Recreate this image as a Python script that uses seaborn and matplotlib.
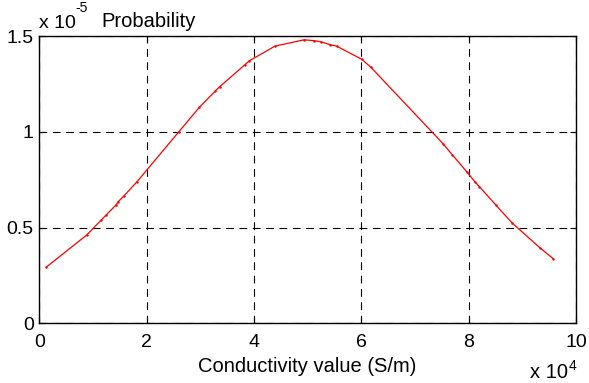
import matplotlib
matplotlib.use("Agg")
import matplotlib.pyplot as plt
import seaborn as sns
import pandas as pd

# values (x in units of 1e4 S/m, y in units of 1e-5)
conductivity = [0.125, 0.88, 1.15, 1.24, 1.43, 1.47, 1.57, 1.82, 2.60, 2.98,
                3.28, 3.36, 3.83, 3.91, 4.39, 4.93, 5.11, 5.24, 5.42, 5.54,
                6.01, 6.18, 7.52, 7.69, 7.97, 8.12, 8.20, 8.51, 8.80, 9.33, 9.58]
probability = [0.292, 0.46, 0.538, 0.564, 0.618, 0.635, 0.663, 0.739, 1.00, 1.127,
               1.213, 1.235, 1.35, 1.37, 1.447, 1.48, 1.476, 1.47, 1.455, 1.447,
               1.378, 1.336, 0.938, 0.881, 0.789, 0.737, 0.713, 0.616, 0.526, 0.393, 0.336]
x_ticks = [0, 2, 4, 6, 8, 10]
y_ticks = [0, 0.5, 1, 1.5]
y_tick_labels = ["0", "0.5", "1", "1.5"]

df = pd.DataFrame({"cond": conductivity, "prob": probability})

sns.set_style("ticks")
plt.rcParams["font.family"] = ["Liberation Sans", "DejaVu Sans"]
plt.rcParams["text.color"] = "black"
plt.rcParams["axes.labelcolor"] = "black"

fig = plt.figure(figsize=(5.89, 3.83), dpi=100)
ax = fig.add_axes([0.0667, 0.156, 0.9113, 0.75])

sns.lineplot(data=df, x="cond", y="prob", color="red", linewidth=0.9,
             marker=".", markersize=3.5, markeredgewidth=0, ax=ax)

ax.set_xlim(0, 10)
ax.set_ylim(0, 1.5)
ax.set_xticks(x_ticks)
ax.set_xticklabels([str(t) for t in x_ticks])
ax.set_yticks(y_ticks)
ax.set_yticklabels(y_tick_labels)
ax.tick_params(direction="in", length=4, width=0.8, labelsize=14, colors="black",
               top=True, right=True)
ax.tick_params(axis="x", pad=8)
ax.tick_params(axis="y", pad=4)
ax.grid(True, color="black", linestyle=(0, (7, 5)), linewidth=0.8)
for s in ax.spines.values():
    s.set_visible(True)
    s.set_color("black")
    s.set_linewidth(1.0)

ax.set_xlabel("Conductivity value (S/m)", fontsize=14.5, labelpad=4)
ax.set_ylabel("")

# MATLAB-style exponent labels
fig.text(39 / 589, 1 - 28.3 / 383, "x 10", fontsize=14, ha="left", va="baseline")
fig.text(75 / 589, 1 - 12.5 / 383, "-5", fontsize=10, ha="left", va="baseline")
fig.text(101 / 589, 1 - 27 / 383, "Probability", fontsize=14.5, ha="left", va="baseline")
fig.text(530 / 589, 1 - 378 / 383, "x 10", fontsize=14.5, ha="left", va="baseline")
fig.text(569 / 589, 1 - 370 / 383, "4", fontsize=10, ha="left", va="baseline")

fig.savefig("out.png", dpi=100)
